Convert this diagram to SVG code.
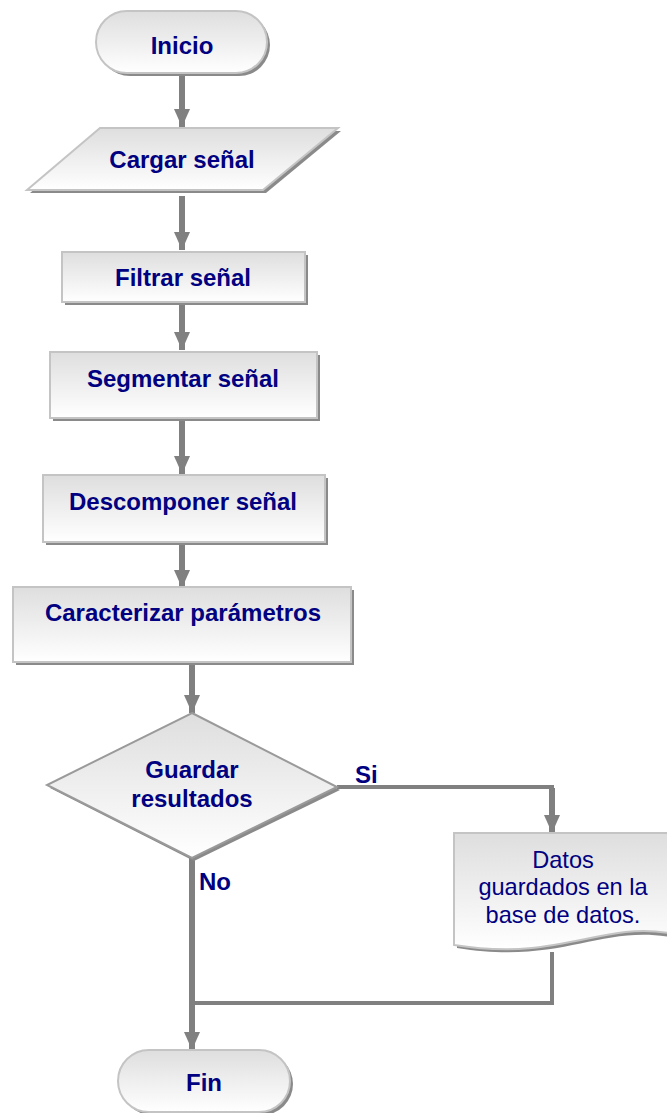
<svg xmlns="http://www.w3.org/2000/svg" width="667" height="1113" viewBox="0 0 667 1113">
<defs>
<linearGradient id="g" x1="0" y1="0" x2="0" y2="1">
<stop offset="0" stop-color="#dedede"/>
<stop offset="1" stop-color="#ffffff"/>
</linearGradient>
<marker id="ah" markerUnits="userSpaceOnUse" markerWidth="20" markerHeight="16" refX="18" refY="8" orient="auto">
<path d="M0,0 L18,8 L0,16 Z" fill="#808080"/>
</marker>
<style>
.sh{fill:#8a8a8a;}
.bx{fill:url(#g);stroke:#c4c4c4;stroke-width:2;}
.t{font-family:"Liberation Sans",Arial,sans-serif;font-weight:bold;font-size:24px;fill:#000080;text-anchor:middle;}
.tn{font-family:"Liberation Sans",Arial,sans-serif;font-size:23.6px;fill:#000080;text-anchor:middle;}
.c{fill:none;stroke:#808080;stroke-width:6;}
.c2{fill:none;stroke:#808080;stroke-width:4;}
</style>
</defs>
<rect width="667" height="1113" fill="#ffffff"/>
<g id="connectors">
<line class="c" x1="182" y1="76" x2="182" y2="127" marker-end="url(#ah)"/>
<line class="c" x1="182" y1="196" x2="182" y2="250" marker-end="url(#ah)"/>
<line class="c" x1="182" y1="302" x2="182" y2="350" marker-end="url(#ah)"/>
<line class="c" x1="182" y1="420" x2="182" y2="474" marker-end="url(#ah)"/>
<line class="c" x1="182" y1="544" x2="182" y2="588" marker-end="url(#ah)"/>
<line class="c" x1="192" y1="664" x2="192" y2="713" marker-end="url(#ah)"/>
<polyline class="c2" points="337,787 552,787 552,800"/>
<line class="c" x1="552" y1="788" x2="552" y2="833" marker-end="url(#ah)"/>
<polyline class="c2" points="552,952 552,1003 192,1003"/>
<line class="c" x1="192" y1="858" x2="192" y2="1050" marker-end="url(#ah)"/>
</g>
<g id="inicio">
<rect x="99" y="14" width="171" height="62" rx="31" class="sh"/>
<rect x="96" y="11" width="171" height="62" rx="31" class="bx" stroke="#9a9a9a"/>
<text class="t" x="182" y="54">Inicio</text>
</g>
<g id="cargar">
<polygon points="103,131 341,131 266,193 30,193" class="sh"/>
<polygon points="100,128 338,128 263,190 27,190" class="bx"/>
<text class="t" x="182" y="168">Cargar señal</text>
</g>
<g id="filtrar">
<rect x="65" y="255" width="243" height="50" class="sh"/>
<rect x="62" y="252" width="243" height="50" class="bx"/>
<text class="t" x="183" y="286">Filtrar señal</text>
</g>
<g id="segmentar">
<rect x="53" y="355" width="267" height="66" class="sh"/>
<rect x="50" y="352" width="267" height="66" class="bx"/>
<text class="t" x="183" y="387">Segmentar señal</text>
</g>
<g id="descomponer">
<rect x="46" y="478" width="282" height="67" class="sh"/>
<rect x="43" y="475" width="282" height="67" class="bx"/>
<text class="t" x="183" y="510">Descomponer señal</text>
</g>
<g id="caracterizar">
<rect x="16" y="590" width="338" height="75" class="sh"/>
<rect x="13" y="587" width="338" height="75" class="bx"/>
<text class="t" x="183" y="621">Caracterizar parámetros</text>
</g>
<g id="guardar">
<polygon points="194,716 340,790 194,861 50,788" class="sh"/>
<polygon points="192,713 337,787 192,858 47,785" fill="url(#g)" stroke="#9a9a9a" stroke-width="2"/>
<text class="t" x="192" y="778">Guardar</text>
<text class="t" x="192" y="807">resultados</text>
</g>
<g id="labels">
<text class="t" x="355" y="783" style="text-anchor:start">Si</text>
<text class="t" x="199" y="890" style="text-anchor:start">No</text>
</g>
<g id="datos">
<path d="M457,836 L670,836 L670,937 C600,925 560,965 457,948 Z" class="sh"/>
<path d="M454,833 L668,833 L668,933 C600,922 560,962 454,945 Z" class="bx"/>
<text class="tn" x="563" y="868">Datos</text>
<text class="tn" x="563" y="895">guardados en la</text>
<text class="tn" x="563" y="923">base de datos.</text>
</g>
<g id="fin">
<rect x="121" y="1053" width="172" height="62" rx="31" class="sh"/>
<rect x="118" y="1050" width="172" height="62" rx="31" class="bx" stroke="#9a9a9a"/>
<text class="t" x="204" y="1091">Fin</text>
</g>
</svg>
